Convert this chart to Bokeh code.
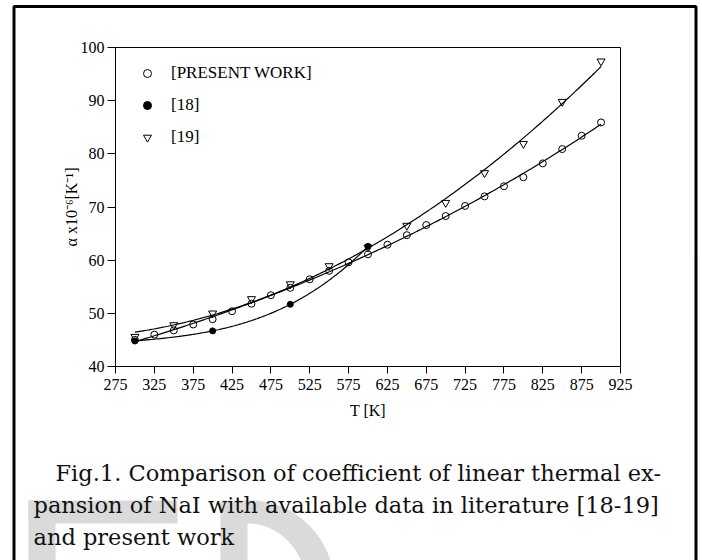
import numpy as np
from bokeh.plotting import figure
from bokeh.models import (Range1d, FixedTicker, Legend, LegendItem, LinearAxis)
from bokeh.core.properties import value
from bokeh.embed import file_html
from bokeh.resources import INLINE

# ---------------- data ----------------
T_present = [300, 325, 350, 375, 400, 425, 450, 475, 500, 525, 550, 575, 600,
             625, 650, 675, 700, 725, 750, 775, 800, 825, 850, 875, 900]
alpha_present = [45.0, 46.0, 46.8, 47.9, 48.9, 50.4, 51.8, 53.4, 54.8, 56.4,
                 58.0, 59.6, 61.1, 62.9, 64.7, 66.6, 68.3, 70.2, 72.0, 73.9,
                 75.6, 78.2, 80.9, 83.4, 85.9]
T_ref18 = [300, 400, 500, 600]
alpha_ref18 = [44.8, 46.7, 51.7, 62.6]
T_ref19 = [300, 350, 400, 450, 500, 550, 600, 650, 700, 750, 800, 850, 900]
alpha_ref19 = [45.6, 47.8, 50.0, 52.7, 55.5, 58.9, 62.4, 66.5, 70.8, 76.4,
               81.9, 89.8, 97.4]

x_ticks = [275, 325, 375, 425, 475, 525, 575, 625, 675, 725, 775, 825, 875, 925]
y_ticks = [40, 50, 60, 70, 80, 90, 100]
legend_labels = ["[PRESENT WORK]", "[18]", "[19]"]
x_label = "T [K]"
y_label = "\u03b1 x10\u207b\u2076[K\u207b\u00b9]"
caption_lines = [
    "Fig.1. Comparison of coefficient of linear thermal ex-",
    "pansion of NaI with available data in literature [18-19]",
    "and present work",
]

SERIF = "Liberation Serif"
CAP_FONT = "DejaVu Serif"

# ---------------- geometry (page pixels) ----------------
W, H = 702, 560
PX_L, PX_R, PY_T, PY_B = 115, 620, 47, 366   # chart box on the page
kx = (PX_R - PX_L) / (x_ticks[-1] - x_ticks[0])
ky = (PY_B - PY_T) / (y_ticks[-1] - y_ticks[0])


def dx(px):
    return x_ticks[0] + (px - PX_L) / kx


def dy(py):
    return y_ticks[0] + (PY_B - py) / ky


p = figure(width=W, height=H, output_backend="svg", toolbar_location=None,
           x_range=Range1d(dx(0), dx(W)), y_range=Range1d(dy(H), dy(0)),
           x_axis_location=None, y_axis_location=None, min_border=0)
p.grid.visible = False
p.outline_line_color = None
p.background_fill_color = "white"
p.border_fill_color = "white"

# ---------------- page decoration ----------------
GRAY = "#dadada"
p.quad(left=[dx(28), dx(28)], right=[dx(177), dx(55)],
       top=[dy(500), dy(500)], bottom=[dy(523), dy(600)],
       fill_color=GRAY, line_color=None)
t = np.linspace(np.pi / 2, 0.0, 40)
outer_x = list(250 + 85 * np.cos(t))
outer_y = list(590 - 90 * np.sin(t))
inner_x = list(247 + 60 * np.cos(t))
inner_y = list(590 - 67 * np.sin(t))
d_px = [220] + outer_x + inner_x[::-1] + [247, 220]
d_py = [500] + outer_y + inner_y[::-1] + [600, 600]
p.patch([dx(v) for v in d_px], [dy(v) for v in d_py], fill_color=GRAY, line_color=None)

# outer frame of the figure panel
p.line([dx(13.5), dx(13.5), dx(695.5), dx(695.5)],
       [dy(620), dy(6), dy(6), dy(620)], line_color="black", line_width=3)

cap_x = [55, 33, 33]
cap_y = [472, 504, 536]
p.text(x=[dx(v) for v in cap_x], y=[dy(v) for v in cap_y], text=caption_lines,
       text_font=value(CAP_FONT), text_font_size=value("22.5px"),
       text_baseline="alphabetic", text_align="left", text_color="#111111")

# ---------------- axes ----------------
xaxis = LinearAxis(fixed_location=y_ticks[0], bounds=(x_ticks[0], x_ticks[-1]),
                   ticker=FixedTicker(ticks=x_ticks), axis_label=x_label)
yaxis = LinearAxis(fixed_location=x_ticks[0], bounds=(y_ticks[0], y_ticks[-1]),
                   ticker=FixedTicker(ticks=y_ticks), axis_label=y_label)
for ax in (xaxis, yaxis):
    ax.axis_line_color = "black"
    ax.major_tick_line_color = "black"
    ax.minor_tick_line_color = None
    ax.major_tick_in = 0
    ax.major_label_text_font = SERIF
    ax.major_label_text_font_size = "16px"
    ax.major_label_text_color = "black"
    ax.axis_label_text_font = SERIF
    ax.axis_label_text_font_size = "16px"
    ax.axis_label_text_font_style = "normal"
    ax.axis_label_text_color = "black"
xaxis.major_tick_out = 7
yaxis.major_tick_out = 8
xaxis.major_label_standoff = 5
yaxis.major_label_standoff = 3
xaxis.axis_label_standoff = 9
yaxis.axis_label_standoff = -2
p.add_layout(xaxis, "below")
p.add_layout(yaxis, "left")

# top and right sides of the chart box
p.line([x_ticks[0], x_ticks[-1], x_ticks[-1]], [y_ticks[-1], y_ticks[-1], y_ticks[0]],
       line_color="black", line_width=1)

# ---------------- series ----------------
def fit_curve(x, y, deg, n=200):
    c = np.polyfit(x, y, deg)
    xs = np.linspace(min(x), max(x), n)
    return xs, np.polyval(c, xs)


for (xx, yy, deg) in [(T_present, alpha_present, 3),
                      (T_ref18, alpha_ref18, 3),
                      (T_ref19, alpha_ref19, 2)]:
    xs, ys = fit_curve(xx, yy, deg)
    p.line(xs, ys, line_color="black", line_width=1.2)

r_p = p.scatter(T_present, alpha_present, marker="circle", size=7,
                fill_color=None, line_color="black", line_width=1)
r_18 = p.scatter(T_ref18, alpha_ref18, marker="circle", size=6,
                 fill_color="black", line_color="black", line_width=1)
r_19 = p.scatter(T_ref19, alpha_ref19, marker="inverted_triangle", size=8,
                 fill_color=None, line_color="black", line_width=1)

legend = Legend(items=[LegendItem(label=legend_labels[0], renderers=[r_p]),
                       LegendItem(label=legend_labels[1], renderers=[r_18]),
                       LegendItem(label=legend_labels[2], renderers=[r_19])],
                location=(137, 413), orientation="vertical",
                glyph_width=20, glyph_height=20, label_height=20,
                spacing=12, padding=0, margin=0, label_standoff=14,
                border_line_color=None, background_fill_alpha=0,
                label_text_font=SERIF, label_text_font_size="17px",
                label_text_color="black")
p.add_layout(legend)

open("out.html", "w").write(file_html(p, INLINE))
